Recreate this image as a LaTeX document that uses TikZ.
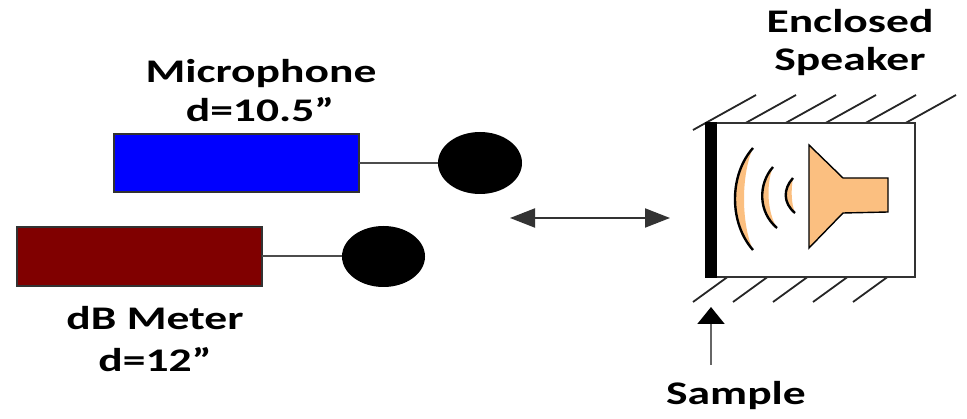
\documentclass[tikz,border=0pt]{standalone}
\usepackage{fontspec}
\setmainfont{Carlito}
\usetikzlibrary{shapes.geometric,arrows.meta}
\definecolor{cone}{RGB}{251,191,128}
\definecolor{meter}{RGB}{128,0,0}
\definecolor{edge}{RGB}{50,50,50}
\newcommand\widetxt[1]{\scalebox{1.38}[1]{#1}}
\begin{document}
\begin{tikzpicture}[x=1pt,y=-1pt,
  lbl/.style={anchor=base, inner sep=0pt, text=black,
              font=\fontsize{33}{39}\selectfont\bfseries},
  bar/.style={draw=edge, line width=1.6pt, rectangle, inner sep=0pt, outer sep=0pt},
  ball/.style={ellipse, fill=black, inner sep=0pt, outer sep=0pt},
  wire/.style={draw=black!70, line width=2pt},
  hatch/.style={draw=black!85, line width=1.8pt},
  bigarrow/.style={line width=2pt, draw=black!80,
                   {Triangle[length=25pt,width=19pt]}-{Triangle[length=25pt,width=19pt]}},
  uparrow/.style={line width=2pt, draw=black!60, -{Triangle[length=17pt,width=27pt,color=black]}},
  wave/.style={fill=cone},
  waveline/.style={draw=black, line width=2.4pt}]
\useasboundingbox (0,0) rectangle (967,419);

% labels
\node[lbl] (micA) at (261,83)  {\widetxt{Microphone}};
\node[lbl] (micB) at (260,122) {\widetxt{d=10.5”}};
\node[lbl] (dbA)  at (155,330) {\widetxt{dB Meter}};
\node[lbl] (dbB)  at (155,372) {\widetxt{d=12”}};
\node[lbl] (spkA) at (850,33)  {\widetxt{Enclosed}};
\node[lbl] (spkB) at (850,71)  {\widetxt{Speaker}};
\node[lbl] (smp)  at (736,405) {\widetxt{Sample}};

% microphone and meter bodies with their probe heads
\node[bar, fill=blue, minimum width=245.4pt, minimum height=58.4pt] (mic) at (236.5,163) {};
\node[ball, minimum width=84pt, minimum height=62pt] (micball) at (480,163) {};
\draw[wire] (mic.east) -- (micball.west);

\node[bar, fill=meter, minimum width=245.4pt, minimum height=59.4pt] (db) at (139.5,256.5) {};
\node[ball, minimum width=83pt, minimum height=61pt] (dbball) at (383.5,256.5) {};
\draw[wire] (db.east) -- (dbball.west);

% distance adjustment arrow
\coordinate (moveL) at (510,218);
\coordinate (moveR) at (670,218);
\draw[bigarrow] (moveL) -- (moveR);

% enclosure
\draw[hatch] foreach \i in {0,...,5} {(693+40*\i,130) -- (756+40*\i,95)};
\draw[hatch] foreach \i in {0,...,4} {(693+40*\i,302) -- (733+40*\i,273)};
\draw[draw=edge, line width=1.6pt, fill=white] (707,123) rectangle (915,277);
\fill[black] (705,122.2) rectangle (717,277.8);

% sound waves
\fill[wave] (753,148) .. controls (729,175) and (729,223) .. (753,250)
            .. controls (741,223) and (741,175) .. cycle;
\draw[waveline] (753,148) .. controls (729,175) and (729,223) .. (753,250);
\fill[wave] (773,167) .. controls (758,184) and (758,212) .. (777,228)
            .. controls (767,212) and (766,184) .. cycle;
\draw[waveline] (773,167) .. controls (758,184) and (758,212) .. (777,228);
\fill[wave] (793,178) .. controls (783,189) and (783,203) .. (795,213)
            .. controls (791,203) and (791,189) .. cycle;
\draw[waveline] (793,178) .. controls (783,189) and (783,203) .. (795,213);

% speaker cone
\draw[fill=cone, draw=black, line width=1.4pt, line join=miter]
  (809,145) -- (843,178) -- (888,178) -- (888,212) -- (843,213) -- (809,248) -- cycle;

% sample pointer
\coordinate (ptrTail) at (711,365);
\coordinate (ptrTip) at (711,307);
\draw[uparrow] (ptrTail) -- (ptrTip);
\end{tikzpicture}
\end{document}
